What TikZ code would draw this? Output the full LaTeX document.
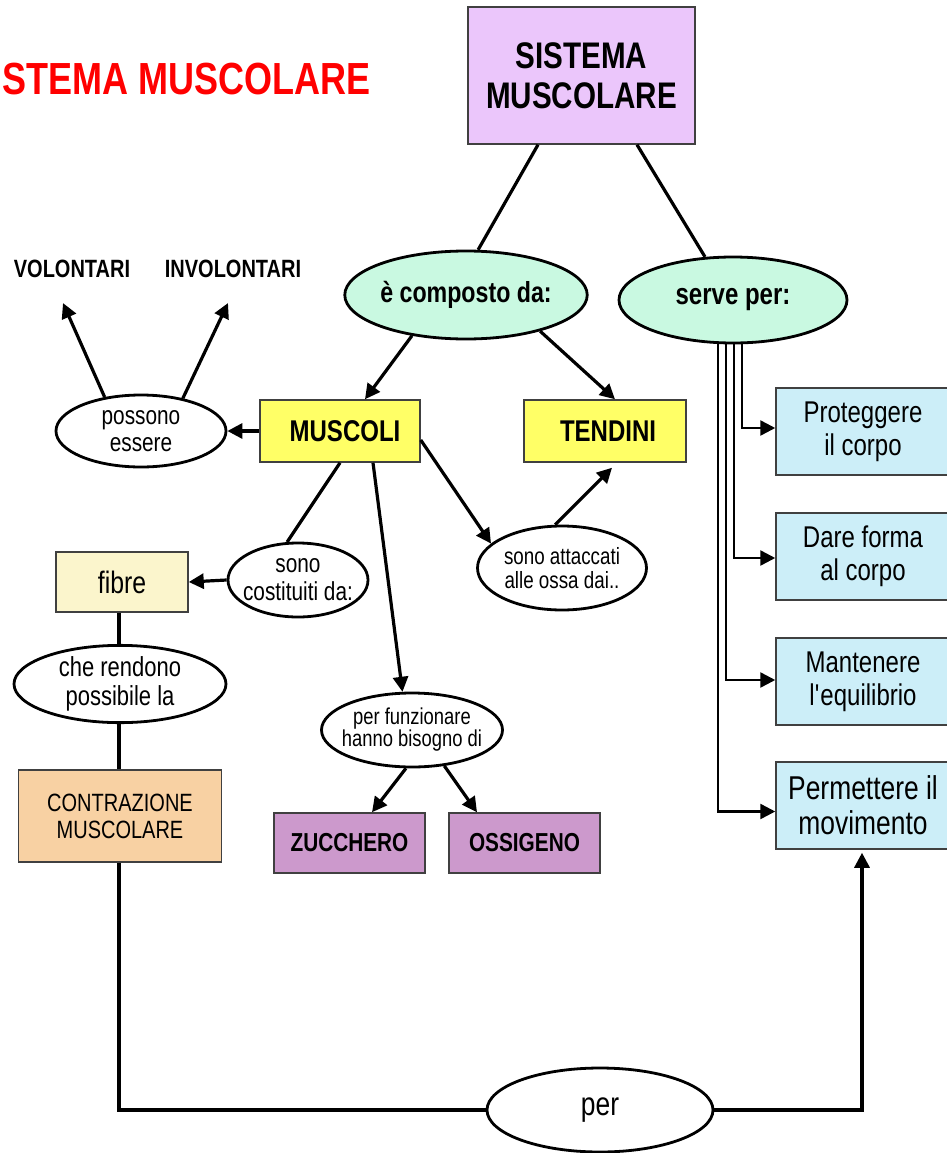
\documentclass[tikz,border=0pt]{standalone}
\usepackage{fontspec}
\setmainfont{Liberation Sans}[FakeStretch=0.8]
\usetikzlibrary{shapes.geometric,arrows.meta,calc}
\definecolor{lilac}{HTML}{EBC6FB}
\definecolor{mint}{HTML}{C9F9E1}
\definecolor{yel}{HTML}{FFFF66}
\definecolor{cream}{HTML}{FBF5CC}
\definecolor{peach}{HTML}{F8D1A3}
\definecolor{purp}{HTML}{CC99CC}
\definecolor{lblue}{HTML}{CCEEF8}
\newcommand\fsz[2]{\fontsize{#1pt}{#2pt}\selectfont}
\newcommand\zw[1]{\makebox[0pt]{#1}}
\begin{document}
\begin{tikzpicture}[x=1pt,y=-1pt,
  box/.style={draw=black!75,line width=1.5pt,inner sep=0pt,align=center,text=black},
  ell/.style={ellipse,draw=black,line width=2.8pt,inner sep=0pt,align=center,text=black},
  con/.style={line width=3.2pt,black},
  arr/.style={con,-{Triangle[length=15pt,width=15pt]}},
  lbl/.style={inner sep=0pt,font=\fsz{25}{28}\bfseries}
]
\useasboundingbox (0,0) rectangle (946,1153);
\fill[white] (0,0) rectangle (946,1153);

% title
\node[anchor=west,text=red,font=\fsz{45}{50}\bfseries,inner sep=0pt] (title) at (2,79) {STEMA MUSCOLARE};

% nodes
\node[box,fill=lilac,minimum width=227pt,minimum height=137pt,font=\fsz{37}{40}\bfseries] (sis) at (581.5,75.5) {SISTEMA\\MUSCOLARE};
\node[ell,fill=mint,minimum width=226pt,minimum height=88pt,font=\fsz{29}{32}\bfseries] (comp) at (466,295) {è composto da:};
\node[ell,fill=mint,minimum width=228pt,minimum height=86pt,font=\fsz{30}{32}\bfseries] (serve) at (733,300) {serve per:};

\node[box,fill=yel,minimum width=160pt,minimum height=62pt,font=\fsz{30}{32}\bfseries] (musc) at (340,431) {\hspace{10pt}MUSCOLI};
\node[box,fill=yel,minimum width=162pt,minimum height=62pt,font=\fsz{30}{32}\bfseries] (tend) at (605,431) {\hspace{6pt}TENDINI};

\node[ell,fill=white,minimum width=170pt,minimum height=72pt,font=\fsz{26}{27}] (poss) at (141,431) {\zw{possono}\\\zw{essere}};
\node[lbl] (vol) at (72,269) {VOLONTARI};
\node[lbl] (invol) at (233,269) {INVOLONTARI};

\node[ell,fill=white,minimum width=140pt,minimum height=74pt,font=\fsz{26}{28}] (cost) at (298,580) {\zw{sono}\\\zw{costituiti da:}};
\node[box,fill=cream,minimum width=132pt,minimum height=60pt,font=\fsz{31}{33}] (fibre) at (122,582) {fibre};
\node[ell,fill=white,minimum width=212pt,minimum height=76pt,font=\fsz{27.5}{29}] (rend) at (120,684) {\zw{che rendono}\\\zw{possibile la}};
\node[box,fill=peach,minimum width=203pt,minimum height=92pt,font=\fsz{25}{27}] (contr) at (120,816) {CONTRAZIONE\\MUSCOLARE};

\node[ell,fill=white,minimum width=181pt,minimum height=74pt,font=\fsz{23}{22}] (funz) at (412,730) {\zw{per funzionare}\\\zw{hanno bisogno di}};
\node[box,fill=purp,minimum width=151pt,minimum height=60pt,font=\fsz{26}{28}\bfseries] (zucc) at (349.5,843) {ZUCCHERO};
\node[box,fill=purp,minimum width=151pt,minimum height=60pt,font=\fsz{26}{28}\bfseries] (ossi) at (524.5,843) {OSSIGENO};

\node[ell,fill=white,minimum width=169pt,minimum height=84pt,font=\fsz{23.5}{23.5}] (att) at (562,568) {\zw{sono attaccati}\\\zw{alle ossa dai..}};

\node[box,fill=lblue,minimum width=174pt,minimum height=87pt,font=\fsz{30}{33}] (prot) at (863,431.5) {Proteggere\\il corpo};
\node[box,fill=lblue,minimum width=174pt,minimum height=87pt,font=\fsz{30}{33}] (dare) at (863,556.5) {Dare forma\\al corpo};
\node[box,fill=lblue,minimum width=174pt,minimum height=87pt,font=\fsz{30}{33}] (mant) at (863,681.5) {Mantenere\\l\textquotesingle equilibrio};
\node[box,fill=lblue,minimum width=174pt,minimum height=87pt,font=\fsz{33}{35}] (perm) at (863,805.5) {Permettere il\\movimento};

\node[ell,fill=white,minimum width=226pt,minimum height=84pt,font=\fsz{33}{35}] (per) at (600,1110) {per};

% connectors
\draw[con] ([xshift=-43.5pt]sis.south) -- (comp.75);
\draw[con] ([xshift=55.5pt]sis.south) -- (serve.123);
\draw[arr] (comp.217) -- ([xshift=25pt]musc.north);
\draw[arr] (comp.-26) -- ([xshift=10pt]tend.north);
\draw[arr] (musc.west) -- (poss.east);
\draw[arr] (poss.137) -- ($(vol.south)+(-9,25)$);
\draw[arr] (poss.38) -- ($(invol.south)+(-5,25)$);
\draw[con] (musc.south) -- (cost.106);
\draw[arr] (cost.west) -- (fibre.east);
\draw[con] ([xshift=-3pt]fibre.south) -- ([xshift=-1pt]rend.north);
\draw[con] ([xshift=-1pt]rend.south) -- ([xshift=-1pt]contr.north);
\draw[arr] ([xshift=33pt]musc.south) -- (funz.104);
\draw[arr] (funz.261) -- ([xshift=22.5pt]zucc.north);
\draw[arr] (funz.312) -- ([xshift=-47.5pt]ossi.north);
\draw[arr] ([yshift=-9pt]musc.east) -- (att.161);
\draw[arr] (att.99) -- ([xshift=7pt,yshift=-5pt]tend.south);

\draw[arr,line width=2.5pt] ([xshift=9pt]serve.south) |- ([yshift=3.5pt]prot.west);
\draw[arr,line width=2.5pt] ([xshift=1pt]serve.south) |- ([yshift=-1.5pt]dare.west);
\draw[arr,line width=2.5pt] ([xshift=-7pt]serve.south) |- ([yshift=1.5pt]mant.west);
\draw[arr,line width=2.5pt] ([xshift=-15pt]serve.south) |- ([yshift=-6pt]perm.west);

\draw[con] ([xshift=-1pt]contr.south) |- (per.west);
\draw[arr] (per.east) -| ([xshift=-1pt,yshift=-3pt]perm.south);
\end{tikzpicture}
\end{document}
